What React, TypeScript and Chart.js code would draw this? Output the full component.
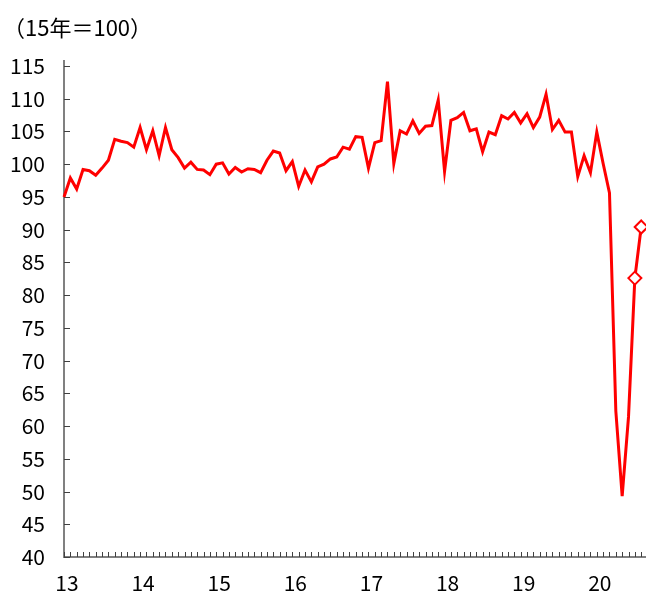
import { useEffect, useRef } from "react";
import { Chart, registerables } from "chart.js";

Chart.register(...registerables);

const titleText = "（15年＝100）";
const yearLabels = ["13", "14", "15", "16", "17", "18", "19", "20"];
const yTickValues = [40, 45, 50, 55, 60, 65, 70, 75, 80, 85, 90, 95, 100, 105, 110, 115];

const v2013 = [95.0, 97.9, 96.2, 99.2, 99.0, 98.3, 99.4, 100.6, 103.8, 103.5, 103.3, 102.6];
const v2014 = [105.6, 102.2, 105.1, 101.3, 105.6, 102.2, 101.0, 99.4, 100.3, 99.2, 99.1, 98.4];
const v2015 = [100.0, 100.2, 98.5, 99.5, 98.8, 99.3, 99.2, 98.7, 100.6, 102.0, 101.7, 99.0];
const v2016 = [100.4, 96.6, 99.1, 97.3, 99.6, 100.0, 100.8, 101.1, 102.6, 102.3, 104.2, 104.1];
const v2017 = [99.4, 103.3, 103.6, 112.6, 100.1, 105.1, 104.6, 106.6, 104.7, 105.8, 105.9, 109.8];
const v2018 = [98.9, 106.7, 107.1, 107.9, 105.1, 105.4, 101.9, 104.9, 104.5, 107.4, 106.9, 107.9];
const v2019 = [106.3, 107.7, 105.6, 107.2, 110.7, 105.3, 106.7, 104.9, 104.9, 98.1, 101.3, 98.7];
const v2020 = [104.9, 100.1, 95.6, 62.3, 49.3, 61.4, 82.6, 90.4];

const values = [...v2013, ...v2014, ...v2015, ...v2016, ...v2017, ...v2018, ...v2019, ...v2020];
const markedFrom = 90; // last two (preliminary) points shown with diamonds

const FONT = "'Noto Sans CJK JP', 'Liberation Sans', sans-serif";

export default function App() {
  const ref = useRef<HTMLCanvasElement>(null);

  useEffect(() => {
    document.body.style.margin = "0";
    const canvas = ref.current;
    if (!canvas) return;

    const innerTicks = {
      id: "innerTicks",
      beforeDatasetsDraw(chart: any) {
        const { ctx, chartArea } = chart;
        const x = chart.scales.x;
        const y = chart.scales.y;
        ctx.save();
        ctx.strokeStyle = "#404040";
        ctx.lineWidth = 1;
        ctx.beginPath();
        for (let i = 0; i < values.length; i++) {
          const px = Math.round(x.getPixelForValue(i)) + 0.5;
          ctx.moveTo(px, chartArea.bottom);
          ctx.lineTo(px, chartArea.bottom - 5);
        }
        for (const t of yTickValues) {
          const py = Math.round(y.getPixelForValue(t)) + 0.5;
          ctx.moveTo(chartArea.left, py);
          ctx.lineTo(chartArea.left + 6, py);
        }
        ctx.stroke();
        ctx.restore();
      },
      afterDraw(chart: any) {
        const { ctx } = chart;
        ctx.save();
        ctx.fillStyle = "#000";
        ctx.font = "22px " + FONT;
        ctx.textBaseline = "middle";
        ctx.textAlign = "left";
        ctx.fillText(titleText, 3, 28);
        ctx.restore();
      },
    };

    const chart = new Chart(canvas, {
      type: "line",
      data: {
        datasets: [
          {
            data: values.map((v, i) => ({ x: i, y: v })),
            borderColor: "#ff0000",
            borderWidth: 3,
            tension: 0,
            pointStyle: "rectRot",
            pointRadius: (c: any) => (c.dataIndex >= markedFrom ? 6.5 : 0),
            pointBackgroundColor: "#ffffff",
            pointBorderColor: "#ff0000",
            pointBorderWidth: 2,
            clip: false as any,
          },
        ],
      },
      options: {
        responsive: false,
        animation: false,
        layout: { autoPadding: false, padding: { top: 61, right: 1, left: 0, bottom: 0 } },
        plugins: {
          legend: { display: false },
          tooltip: { enabled: false },
          title: { display: false },
        },
        scales: {
          x: {
            type: "linear",
            min: 0,
            max: 91.6,
            grid: { display: false, drawTicks: false },
            border: { display: true, color: "#808080", width: 2 },
            afterBuildTicks: (scale: any) => {
              scale.ticks = yearLabels.map((_, k) => ({ value: k * 12 }));
            },
            afterFit: (scale: any) => {
              scale.height = 37;
              scale.paddingLeft = 0;
              scale.paddingRight = 0;
            },
            ticks: {
              autoSkip: false,
              maxRotation: 0,
              padding: 13,
              labelOffset: 3,
              color: "#000",
              font: { size: 21, family: FONT },
              callback: (v: any) => yearLabels[Math.round(Number(v) / 12)] ?? "",
            },
          },
          y: {
            min: 40,
            max: 115.76,
            grid: { display: false, drawTicks: false },
            border: { display: true, color: "#808080", width: 2 },
            afterBuildTicks: (scale: any) => {
              scale.ticks = yTickValues.map((v) => ({ value: v }));
            },
            afterFit: (scale: any) => {
              scale.width = 64;
            },
            ticks: {
              padding: 19,
              color: "#000",
              font: { size: 21, family: FONT },
              callback: (v: any) => String(v),
            },
          },
        },
      },
      plugins: [innerTicks],
    });

    return () => chart.destroy();
  }, []);

  return <canvas ref={ref} width={646} height={594} style={{ display: "block" }} />;
}
